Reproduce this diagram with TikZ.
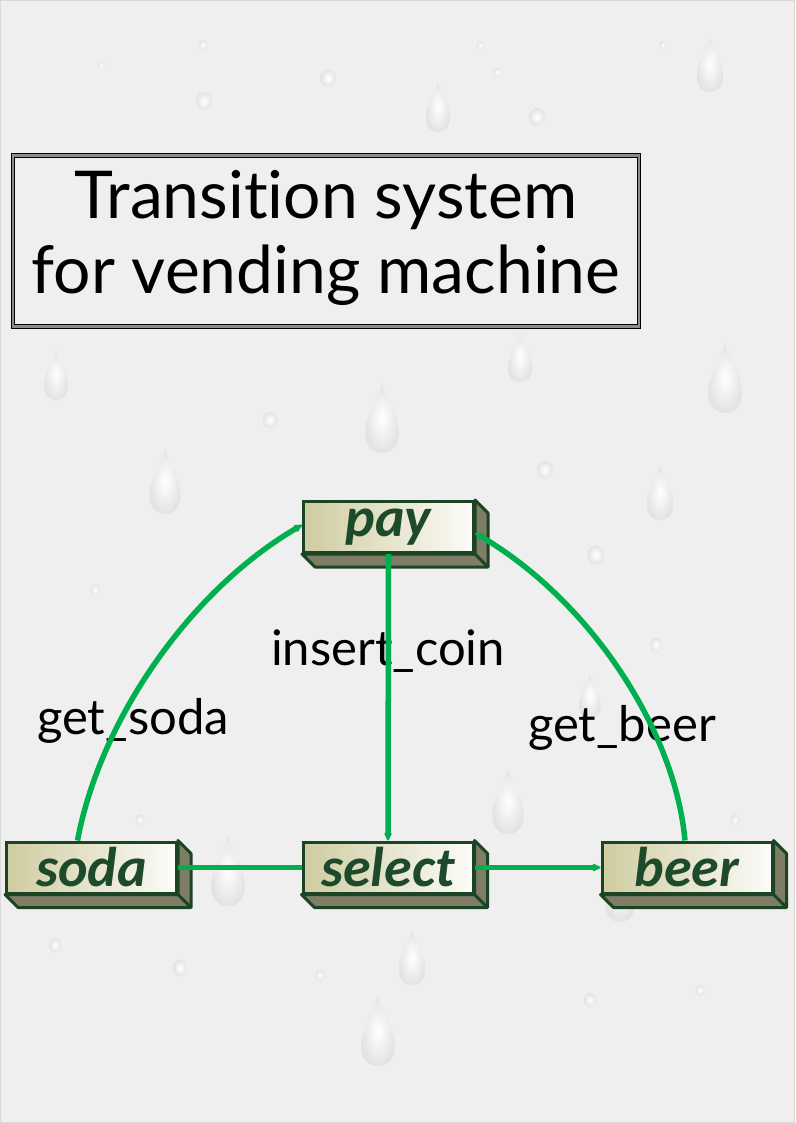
\documentclass[tikz,border=0pt]{standalone}
\usepackage{fontspec}
\usetikzlibrary{arrows.meta,calc}
\newfontfamily\carl{Carlito}
\newfontfamily\latof[Ligatures={NoCommon,NoRequired,NoContextual}]{Lato}
\definecolor{bgc}{HTML}{EFEFEF}
\definecolor{dropc}{HTML}{E3E3E3}
\definecolor{outl}{HTML}{1B4424}
\definecolor{txtc}{HTML}{1C4A2A}
\definecolor{tanc}{HTML}{CFCCA0}
\definecolor{sidec}{HTML}{807D66}
\definecolor{edgec}{HTML}{00B04F}
\tikzset{
  statebox/.style={minimum width=170pt, minimum height=51pt, inner sep=0pt,
    draw=outl, line width=3pt, left color=tanc, right color=white!94!tanc,
    text=txtc, font=\carl\bfseries\itshape\fontsize{56}{56}\selectfont},
  sideface/.style={fill=sidec, draw=outl, line width=3pt, line join=round},
  edge/.style={draw=edgec, line width=5.5pt},
  tip/.style={-{Stealth[length=11pt,width=10pt,round]}},
  lbl/.style={font=\latof\fontsize{49}{49}\selectfont, text=black, inner sep=0pt},
  rdrop/.pic={\shade[inner color=white, outer color=dropc]
    (0,-1.5) .. controls (0.15,-0.9) and (0.6,-0.4) .. (0.6,0.3)
    .. controls (0.6,0.8) and (0.3,1) .. (0,1)
    .. controls (-0.3,1) and (-0.6,0.8) .. (-0.6,0.3)
    .. controls (-0.6,-0.4) and (-0.15,-0.9) .. (0,-1.5) -- cycle;},
  rdot/.pic={\shade[inner color=white, outer color=dropc] (0,0) ellipse (0.6 and 0.7);}
}
\newcommand\depth[1]{%
  \path[sideface] (#1.north east) -- ++(13,13) -- ($(#1.south east)+(13,13)$)
    -- ($(#1.south west)+(13,13)$) -- (#1.south west) -- (#1.south east) -- cycle;
  \draw[outl, line width=3pt] (#1.south east) -- ++(13,13);}
\begin{document}
\begin{tikzpicture}[x=1pt,y=-1pt]
\useasboundingbox (0,0) rectangle (795,1123);
\fill[bgc] (0,0) rectangle (795,1123);
\draw[black!15, line width=1pt] (0.5,0.5) rectangle (794.5,1122.5);
% droplets
\foreach \x/\y/\s in {710/70/22, 438/112/20, 520/362/20, 725/385/28, 382/425/28, 165/488/26,
  660/498/22, 508/808/26, 228/878/28, 412/963/22, 378/1038/28, 620/898/24, 590/700/18, 56/380/20}
  \pic[scale=\s] at (\x,\y) {rdrop};
\foreach \x/\y/\s in {204/101/13, 328/78/13, 537/117/13, 101/65/6, 203/45/7, 480/45/6, 497/72/6,
  663/45/6, 270/420/12, 545/470/13, 596/555/14, 95/590/8, 180/968/12, 55/945/10, 320/975/8,
  656/645/10, 140/820/8, 735/820/8, 590/1000/10, 700/990/8}
  \pic[scale=\s] at (\x,\y) {rdot};
% title
\node[draw=black, line width=0.8pt, double=black!45, double distance=2.5pt,
  minimum width=626pt, minimum height=171pt, inner sep=0pt] (titlebox) at (326,241) {};
\node[font=\latof\fontsize{66}{75}\selectfont, align=center, inner sep=0pt] (title) at (326,238)
  {Transi\kern0pt tion system\\for vending machine};
% states
\node[statebox] (pay) at (388.5,527) {pay};
\depth{pay}
\node[statebox] (soda) at (91.5,867.5) {soda};
\depth{soda}
\node[statebox] (select) at (388,867.5) {select};
\depth{select}
\node[statebox] (beer) at (687,867.5) {beer};
\depth{beer}
% labels
\node[lbl] (lcoin) at (388,651) {insert\_coin};
\node[lbl] (lsoda) at (133,721) {get\_soda};
\node[lbl] (lbeer) at (622,728) {get\_beer};
% edges
\draw[edge,tip] (pay.south) -- (select.north);
\draw[edge,tip] ([xshift=-14pt]soda.north) .. controls (100,720) and (190,590) .. ([yshift=2pt]pay.west);
\draw[edge,tip] ([xshift=-2pt]beer.north) .. controls (675,730) and (590,600) .. ([yshift=-6pt]pay.east);
\draw[edge] (soda.east) -- (select.west);
\draw[edge,tip] (select.east) -- (beer.west);
\end{tikzpicture}
\end{document}
